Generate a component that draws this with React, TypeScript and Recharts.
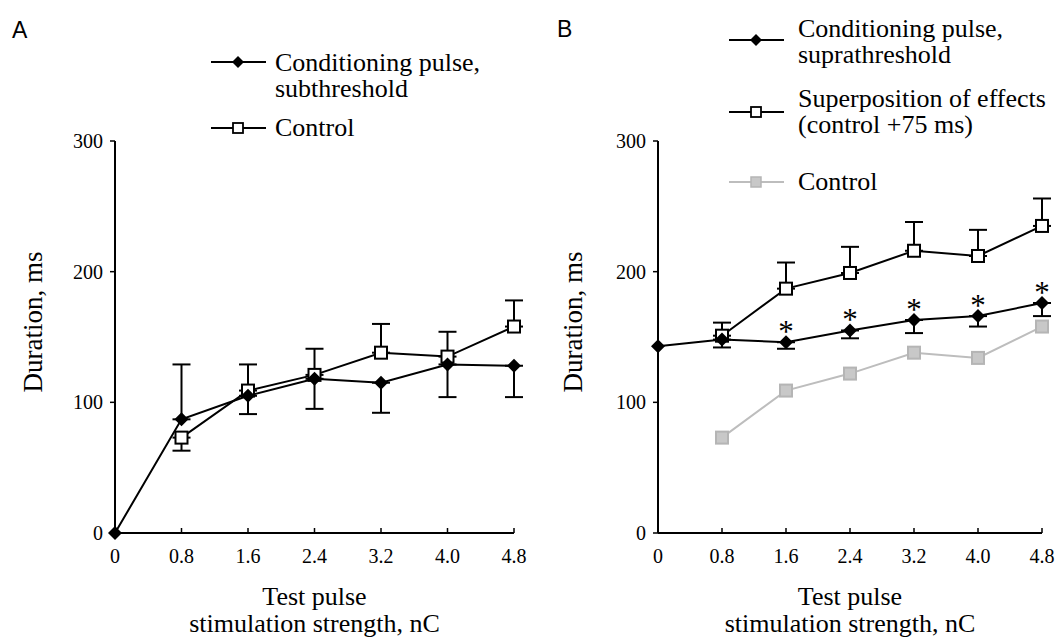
import React from "react";
import { LineChart, Line, XAxis, YAxis, ErrorBar, LabelList } from "recharts";

const xValues = [0, 0.8, 1.6, 2.4, 3.2, 4.0, 4.8];
const xTickLabels = ["0", "0.8", "1.6", "2.4", "3.2", "4.0", "4.8"];
const yTicks = [0, 100, 200, 300];

// Panel A
const subthreshold = [0, 87, 105, 118, 115, 129, 128];
const subthresholdErr = [null, [0, 42], [14, 0], [23, 0], [23, 0], [25, 0], [24, 0]];
const controlA = [null, 73, 109, 121, 138, 135, 158];
const controlAErr = [null, [10, 0], [0, 20], [0, 20], [0, 22], [0, 19], [0, 20]];

// Panel B
const suprathreshold = [143, 148, 146, 155, 163, 166, 176];
const suprathresholdErr = [null, [6, 0], [5, 0], [6, 0], [10, 0], [8, 0], [10, 0]];
const significant = ["", "", "*", "*", "*", "*", "*"];
const superposition = [null, 151, 187, 199, 216, 212, 235];
const superpositionErr = [null, [0, 10], [0, 20], [0, 20], [0, 22], [0, 20], [0, 21]];
const controlB = [null, 73, 109, 122, 138, 134, 158];

const SERIF = "'Liberation Serif', 'Times New Roman', serif";
const SANS = "'Liberation Sans', Arial, sans-serif";
const GRAY = "#bdbdbd";

const dataA = xValues.map((x, i) => ({
  x,
  cond: subthreshold[i],
  condErr: subthresholdErr[i],
  ctrl: controlA[i],
  ctrlErr: controlAErr[i],
}));

const dataB = xValues.map((x, i) => ({
  x,
  cond: suprathreshold[i],
  condErr: suprathresholdErr[i],
  sig: significant[i],
  sup: superposition[i],
  supErr: superpositionErr[i],
  ctrl: controlB[i],
}));

const diamondDot = (props: any) => {
  const { cx, cy, index, value } = props;
  if (cx == null || cy == null || value == null) return <g key={`dd-${index}`} />;
  return (
    <path
      key={`dd-${index}`}
      d={`M${cx},${cy - 7}L${cx + 7},${cy}L${cx},${cy + 7}L${cx - 7},${cy}Z`}
      fill="#000"
    />
  );
};

const squareDot = (fill: string, stroke: string) => (props: any) => {
  const { cx, cy, index, value } = props;
  if (cx == null || cy == null || value == null) return <g key={`sq-${index}`} />;
  return (
    <rect
      key={`sq-${index}`}
      x={cx - 6}
      y={cy - 6}
      width={12}
      height={12}
      fill={fill}
      stroke={stroke}
      strokeWidth={2}
    />
  );
};

const serif = (size: number) => ({ fontFamily: SERIF, fontSize: size, fill: "#000" });

const XTick = (props: any) => {
  const { x, y, index } = props;
  return (
    <g>
      <line x1={x} y1={y} x2={x} y2={y - 5} stroke="#000" strokeWidth={1.5} />
      <text x={x} y={y + 30} textAnchor="middle" style={serif(20)}>
        {xTickLabels[index]}
      </text>
    </g>
  );
};

const XTitle = (props: any) => {
  const vb = props.viewBox || {};
  const cx = vb.x + vb.width / 2;
  return (
    <text textAnchor="middle" style={serif(26)}>
      <tspan x={cx} y={vb.y + 72}>Test pulse</tspan>
      <tspan x={cx} y={vb.y + 99}>stimulation strength, nC</tspan>
    </text>
  );
};

const YTitle = (props: any) => {
  const vb = props.viewBox || {};
  const tx = vb.x + 42;
  const ty = 322;
  return (
    <text x={tx} y={ty} transform={`rotate(-90 ${tx} ${ty})`} textAnchor="middle" style={serif(27)}>
      Duration, ms
    </text>
  );
};

const Asterisk = (props: any) => {
  const { x, y, value } = props;
  if (!value) return null;
  return (
    <text x={x} y={y} textAnchor="middle" style={serif(31)}>
      {value}
    </text>
  );
};

const axisLine = { stroke: "#000", strokeWidth: 2 };

function PanelA() {
  return (
    <LineChart width={540} height={637} data={dataA} margin={{ top: 141, right: 26, bottom: 74, left: 0 }}>
      <XAxis
        dataKey="x"
        type="number"
        domain={[0, 4.8]}
        ticks={xValues}
        height={30}
        axisLine={axisLine}
        tickLine={false}
        tickSize={0}
        tickMargin={0}
        tick={<XTick />}
        interval={0}
        label={{ content: <XTitle /> }}
      />
      <YAxis
        type="number"
        domain={[0, 300]}
        ticks={yTicks}
        width={115}
        axisLine={axisLine}
        tickLine={{ stroke: "#000", strokeWidth: 1.5 }}
        tickSize={5}
        tickMargin={7}
        tick={{ fill: "#000", fontSize: 20, fontFamily: SERIF }}
        label={{ content: <YTitle /> }}
      />
      <Line
        dataKey="ctrl"
        stroke="#000"
        strokeWidth={2}
        dot={squareDot("#fff", "#000")}
        activeDot={false}
        isAnimationActive={false}
      >
        <ErrorBar dataKey="ctrlErr" width={9} strokeWidth={2} stroke="#000" direction="y" />
      </Line>
      <Line
        dataKey="cond"
        stroke="#000"
        strokeWidth={2}
        dot={diamondDot}
        activeDot={false}
        isAnimationActive={false}
      >
        <ErrorBar dataKey="condErr" width={9} strokeWidth={2} stroke="#000" direction="y" />
      </Line>
    </LineChart>
  );
}

function PanelB() {
  return (
    <LineChart width={517} height={637} data={dataB} margin={{ top: 141, right: 15, bottom: 74, left: 0 }}>
      <XAxis
        dataKey="x"
        type="number"
        domain={[0, 4.8]}
        ticks={xValues}
        height={30}
        axisLine={axisLine}
        tickLine={false}
        tickSize={0}
        tickMargin={0}
        tick={<XTick />}
        interval={0}
        label={{ content: <XTitle /> }}
      />
      <YAxis
        type="number"
        domain={[0, 300]}
        ticks={yTicks}
        width={118}
        axisLine={axisLine}
        tickLine={{ stroke: "#000", strokeWidth: 1.5 }}
        tickSize={5}
        tickMargin={7}
        tick={{ fill: "#000", fontSize: 20, fontFamily: SERIF }}
        label={{ content: <YTitle /> }}
      />
      <Line
        dataKey="ctrl"
        stroke={GRAY}
        strokeWidth={2}
        dot={squareDot("#c8c8c8", "#b5b5b5")}
        activeDot={false}
        isAnimationActive={false}
      />
      <Line
        dataKey="sup"
        stroke="#000"
        strokeWidth={2}
        dot={squareDot("#fff", "#000")}
        activeDot={false}
        isAnimationActive={false}
      >
        <ErrorBar dataKey="supErr" width={9} strokeWidth={2} stroke="#000" direction="y" />
      </Line>
      <Line
        dataKey="cond"
        stroke="#000"
        strokeWidth={2}
        dot={diamondDot}
        activeDot={false}
        isAnimationActive={false}
      >
        <ErrorBar dataKey="condErr" width={9} strokeWidth={2} stroke="#000" direction="y" />
        <LabelList dataKey="sig" content={<Asterisk />} />
      </Line>
    </LineChart>
  );
}

function LegendKey({ x, y, kind }: { x: number; y: number; kind: "diamond" | "square" | "gray" }) {
  const stroke = kind === "gray" ? GRAY : "#000";
  const cx = x + 27;
  return (
    <g>
      <line x1={x} y1={y} x2={x + 55} y2={y} stroke={stroke} strokeWidth={2} />
      {kind === "diamond" && (
        <path d={`M${cx},${y - 6}L${cx + 6},${y}L${cx},${y + 6}L${cx - 6},${y}Z`} fill="#000" />
      )}
      {kind === "square" && (
        <rect x={cx - 5} y={y - 5} width={10} height={10} fill="#fff" stroke="#000" strokeWidth={1.8} />
      )}
      {kind === "gray" && (
        <rect x={cx - 5} y={y - 5} width={10} height={10} fill="#c8c8c8" stroke="#b5b5b5" strokeWidth={1.5} />
      )}
    </g>
  );
}

function Overlay() {
  const t = serif(26);
  const letter = { fontFamily: SANS, fontSize: 23, fill: "#000" };
  return (
    <svg width={1057} height={637} style={{ position: "absolute", left: 0, top: 0, pointerEvents: "none" }}>
      <text x={12} y={38} style={letter}>A</text>
      <text x={557} y={37} style={letter}>B</text>

      <LegendKey x={211} y={62} kind="diamond" />
      <text x={275} y={71} style={t}>Conditioning pulse,</text>
      <text x={275} y={97} style={t}>subthreshold</text>
      <LegendKey x={211} y={128} kind="square" />
      <text x={275} y={136} style={t}>Control</text>

      <LegendKey x={729} y={40} kind="diamond" />
      <text x={798} y={37} style={t}>Conditioning pulse,</text>
      <text x={798} y={63} style={t}>suprathreshold</text>
      <LegendKey x={729} y={112} kind="square" />
      <text x={798} y={107} style={t}>Superposition of effects</text>
      <text x={798} y={133} style={t}>(control +75 ms)</text>
      <LegendKey x={729} y={182} kind="gray" />
      <text x={798} y={190} style={t}>Control</text>
    </svg>
  );
}

export default function App() {
  return (
    <div style={{ position: "absolute", left: 0, top: 0, width: 1057, height: 637, background: "#fff" }}>
      <div style={{ position: "absolute", left: 0, top: 0 }}>
        <PanelA />
      </div>
      <div style={{ position: "absolute", left: 540, top: 0 }}>
        <PanelB />
      </div>
      <Overlay />
    </div>
  );
}
